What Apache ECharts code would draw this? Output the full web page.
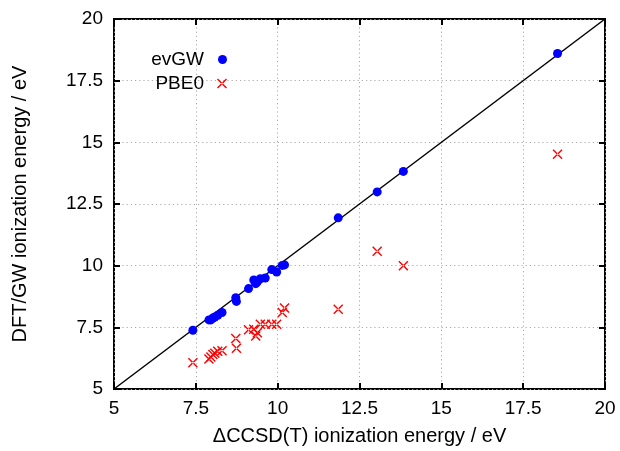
<!DOCTYPE html>
<html>
<head>
<meta charset="utf-8">
<script src="https://cdn.jsdelivr.net/npm/echarts@6/dist/echarts.min.js"></script>
<style>html,body{margin:0;padding:0;background:#fff}#c{width:620px;height:451px}</style>
</head>
<body>
<div id="c"></div>
<script>
var ccsd = [7.41,7.90,7.96,8.02,8.08,8.17,8.30,8.72,8.74,9.11,9.27,9.33,9.38,9.47,9.62,9.82,9.97,10.14,10.21,11.85,13.04,13.84,18.55];
var evgw = [7.38,7.80,7.80,7.88,7.92,7.99,8.10,8.70,8.55,9.07,9.42,9.27,9.35,9.47,9.50,9.84,9.74,10.01,10.03,11.94,12.99,13.82,18.60];
var pbe0 = [6.06,6.22,6.30,6.40,6.45,6.53,6.55,7.05,6.65,7.40,7.42,7.15,7.28,7.62,7.62,7.62,7.62,8.10,8.28,8.23,10.58,10.00,14.52];
var tickValues = [5,7.5,10,12.5,15,17.5,20];
var diagonal = [[5,5],[20,20]];

var FONT = 'Liberation Sans';
var crossPath = 'path://M0,1L1,0L10,9L9,10Z M9,0L0,9L1,10L10,1Z';

function pairs(xs, ys){ return xs.map(function(x,i){ return [x, ys[i]]; }); }

var axisCommon = {
  type: 'value', min: tickValues[0], max: tickValues[tickValues.length-1], interval: 2.5,
  axisLine: {show: false},
  axisTick: {show: true, inside: true, length: 6, lineStyle: {color: '#000', width: 2}}
};
var gridLine = {show: true, lineStyle: {color: '#aaa', width: 1, type: [1.2, 3]}};

var chart = echarts.init(document.getElementById('c'), null, {renderer: 'canvas'});
chart.setOption({
  animation: false,
  backgroundColor: '#fff',
  grid: {left: 114, right: 15, top: 19, bottom: 59, show: true, borderColor: '#000', borderWidth: 2, backgroundColor: 'transparent'},
  legend: [
    {data: ['evGW'], orient: 'vertical', right: 388, top: 45, align: 'right', itemWidth: 9, itemHeight: 9,
     textStyle: {fontFamily: FONT, fontSize: 19, color: '#000', padding: [0, 9, 0, 0]}},
    {data: ['PBE0'], orient: 'vertical', right: 388, top: 69, align: 'right', itemWidth: 10, itemHeight: 10,
     textStyle: {fontFamily: FONT, fontSize: 19, color: '#000', padding: [0, 8, 0, 0]}}
  ],
  xAxis: [
    Object.assign({}, axisCommon, {
      position: 'bottom',
      name: 'ΔCCSD(T) ionization energy / eV', nameLocation: 'middle', nameGap: 37,
      nameTextStyle: {fontFamily: FONT, fontSize: 20, color: '#000'},
      axisLabel: {fontFamily: FONT, fontSize: 19, color: '#000', margin: 10},
      splitLine: gridLine
    }),
    Object.assign({}, axisCommon, {position: 'top', axisLabel: {show: false}, splitLine: {show: false}})
  ],
  yAxis: [
    Object.assign({}, axisCommon, {
      position: 'left',
      name: 'DFT/GW ionization energy / eV', nameLocation: 'middle', nameGap: 84, nameRotate: 90,
      nameTextStyle: {fontFamily: FONT, fontSize: 20, color: '#000'},
      axisLabel: {fontFamily: FONT, fontSize: 19, color: '#000', margin: 11},
      splitLine: gridLine
    }),
    Object.assign({}, axisCommon, {position: 'right', axisLabel: {show: false}, splitLine: {show: false}})
  ],
  series: [
    {type: 'line', data: diagonal, symbol: 'none', silent: true, lineStyle: {color: '#000', width: 1.5}, z: 1},
    {name: 'evGW', type: 'scatter', data: pairs(ccsd, evgw), symbol: 'circle', symbolSize: 9,
     itemStyle: {color: '#0000ff', opacity: 1}, z: 3},
    {name: 'PBE0', type: 'scatter', data: pairs(ccsd, pbe0), symbol: crossPath, symbolSize: 10,
     itemStyle: {color: '#ff0000', opacity: 1}, z: 2}
  ]
});
</script>
</body>
</html>
